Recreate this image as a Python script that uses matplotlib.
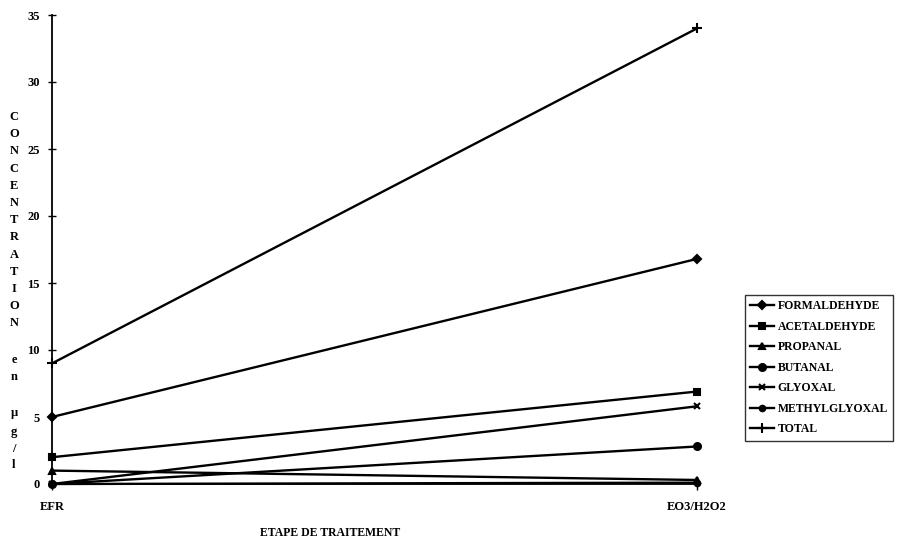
import matplotlib
matplotlib.use("Agg")
import matplotlib.pyplot as plt

# data
stages = ["EFR", "EO3/H2O2"]
formaldehyde = [5.0, 16.8]
acetaldehyde = [2.0, 6.9]
propanal = [1.0, 0.3]
butanal = [0.0, 2.8]
glyoxal = [0.0, 5.8]
methylglyoxal = [0.0, 0.1]
total = [9.0, 34.0]

series = [
    ("FORMALDEHYDE", formaldehyde, "D", 4),
    ("ACETALDEHYDE", acetaldehyde, "s", 5),
    ("PROPANAL", propanal, "^", 5),
    ("BUTANAL", butanal, "o", 5),
    ("GLYOXAL", glyoxal, "x", 5),
    ("METHYLGLYOXAL", methylglyoxal, "o", 4),
    ("TOTAL", total, "+", 7),
]

plt.rcParams["font.family"] = ["Liberation Serif", "DejaVu Serif"]

fig = plt.figure(figsize=(9.09, 5.41), dpi=100)
ax = fig.add_axes([52 / 909, 1 - 484 / 541, (697 - 52) / 909, (484 - 15) / 541])

x = list(range(len(stages)))
for name, vals, mk, ms in series:
    ax.plot(x, vals, color="black", lw=1.7, marker=mk, ms=ms, mew=1.5,
            label=name, clip_on=False)

ax.set_xlim(0, 1)
ax.set_ylim(0, 35)
ax.set_yticks(range(0, 36, 5))
ax.set_xticks(x)
ax.set_xticklabels(stages, fontsize=9, fontweight="bold")
for t in ax.get_yticklabels():
    t.set_fontsize(9)
    t.set_fontweight("bold")
ax.tick_params(axis="y", direction="inout", length=6, width=1, pad=6)
ax.tick_params(axis="x", direction="out", length=4, width=1, pad=8)

for s in ("top", "right"):
    ax.spines[s].set_visible(False)
for s in ("left", "bottom"):
    ax.spines[s].set_linewidth(1.3)

fig.text(330 / 909, 1 - 533 / 541, "ETAPE DE TRAITEMENT", ha="center", va="center",
         fontsize=8.5, fontweight="bold")

# vertical stacked y label
letters = list("CONCENTRATION") + ["e", "n", "µ", "g", "/", "l"]
ys = [117 + 17.2 * i for i in range(13)] + [360, 377, 413, 432, 449, 465]
for ch, yy in zip(letters, ys):
    fig.text(14 / 909, 1 - yy / 541, ch, ha="center", va="center",
             fontsize=9, fontweight="bold")

leg = fig.legend(loc="upper left", bbox_to_anchor=(745 / 909, 1 - 295 / 541),
                 frameon=True, fancybox=False, shadow=False,
                 prop={"size": 8.5, "weight": "bold"},
                 handlelength=2.0, handletextpad=0.3, labelspacing=0.72,
                 borderpad=0.45, borderaxespad=0)
leg.get_frame().set_edgecolor("black")
leg.get_frame().set_linewidth(1.0)

fig.savefig("out.png", dpi=100)
